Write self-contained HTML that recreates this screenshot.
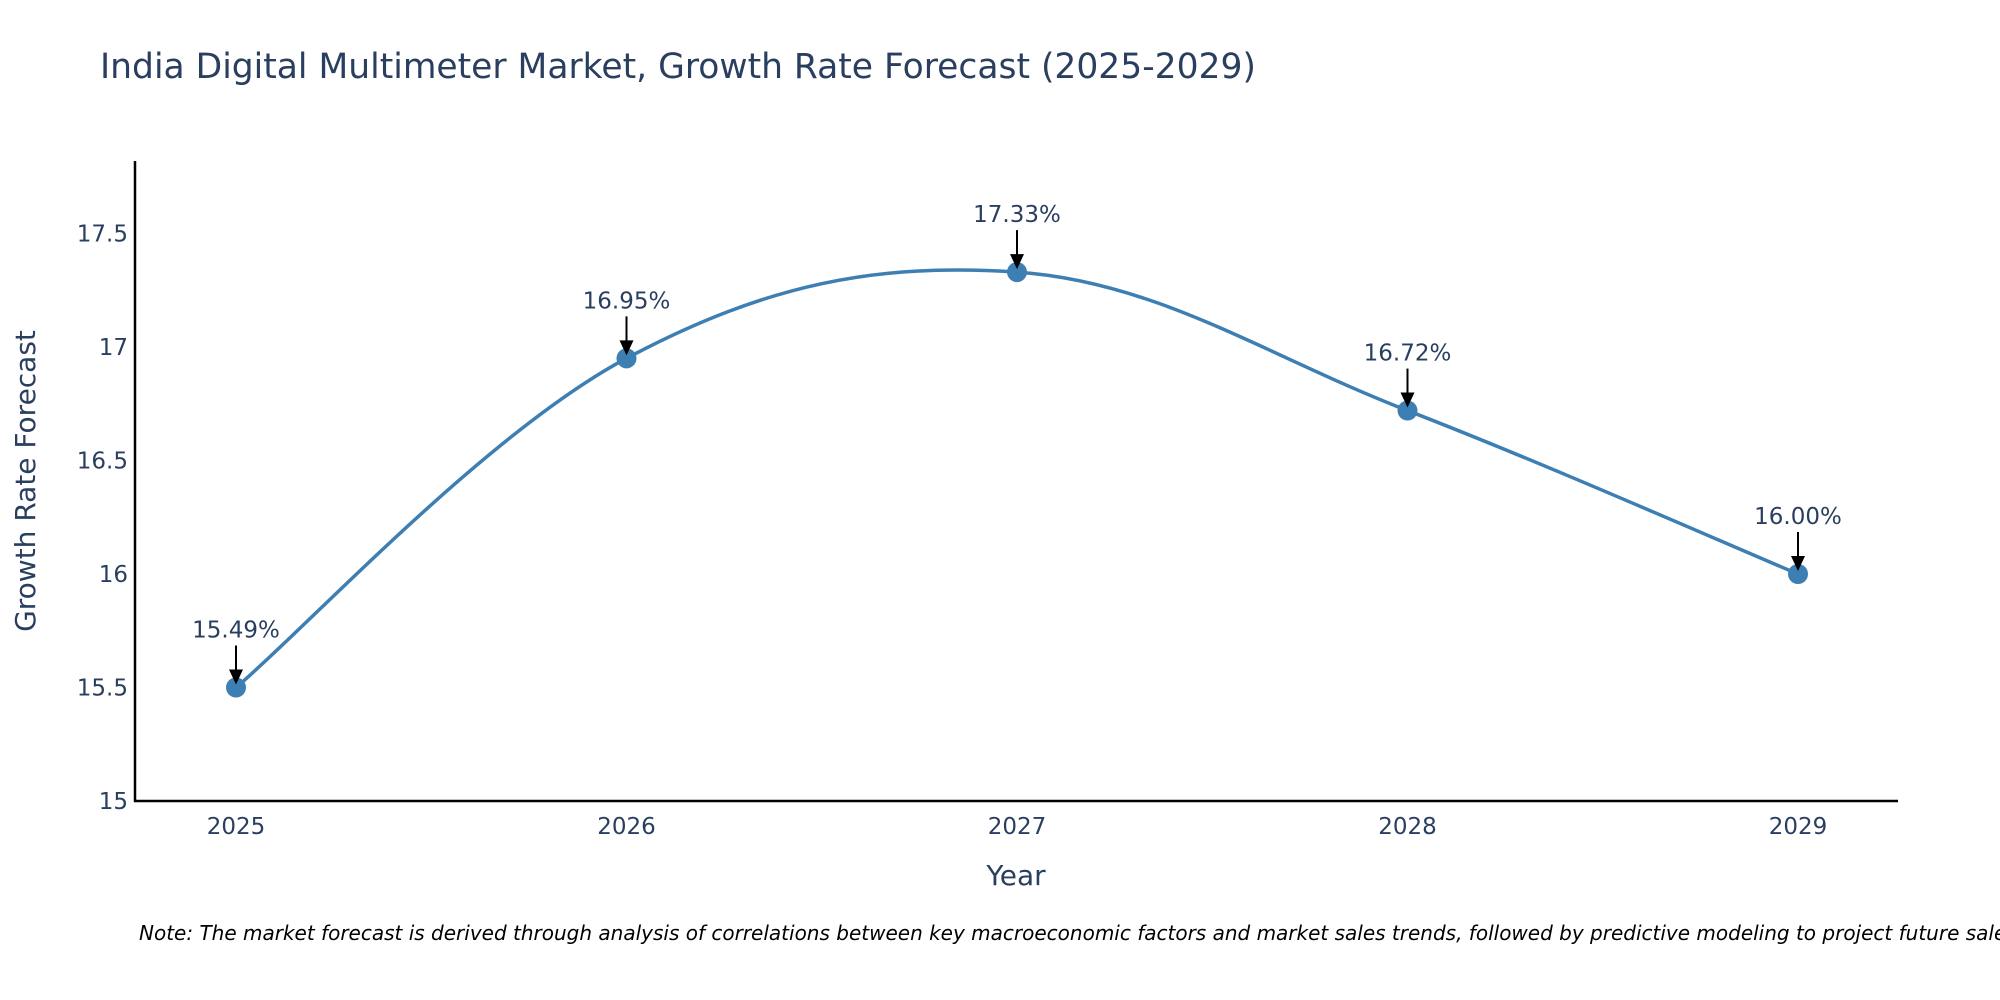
<!DOCTYPE html>
<html><head><meta charset="utf-8"><style>
body{margin:0;background:#fff;}
svg{display:block;font-family:"DejaVu Sans","Liberation Sans",sans-serif;}
</style></head><body>
<svg id="chart" width="2000" height="1000">
<text x="100" y="78" font-size="34.5" fill="#2a3f5f">India Digital Multimeter Market, Growth Rate Forecast (2025-2029)</text>
<g id="yticks"></g><g id="xticks"></g>
<path id="line" fill="none" stroke="#3d7fb3" stroke-width="3.5"/>
<g id="marks"></g>
<line x1="135" y1="161" x2="135" y2="802" stroke="#000" stroke-width="2.5"/>
<line x1="134" y1="801" x2="1898" y2="801" stroke="#000" stroke-width="2.5"/>
<text x="1016" y="885" font-size="28" fill="#2a3f5f" text-anchor="middle">Year</text>
<text transform="translate(35,481) rotate(-90)" font-size="28" fill="#2a3f5f" text-anchor="middle">Growth Rate Forecast</text>
<text x="139" y="940" font-size="20" font-style="italic" fill="#000">Note: The market forecast is derived through analysis of correlations between key macroeconomic factors and market sales trends, followed by predictive modeling to project future sales.</text>
</svg>
<script>
const years=[2025,2026,2027,2028,2029];
const values=[15.5,16.95,17.33,16.72,16.00];
const labels=["15.49%","16.95%","17.33%","16.72%","16.00%"];
const yTicks=[15,15.5,16,16.5,17,17.5];
const yTickLabels=["15","15.5","16","16.5","17","17.5"];
const NS="http://www.w3.org/2000/svg";
const xs=y=>236+(y-2025)*390.5;
const ys=v=>801-(v-15)*227;
function el(t,a,p){const e=document.createElementNS(NS,t);for(const k in a)e.setAttribute(k,a[k]);p.appendChild(e);return e;}
const yt=document.getElementById('yticks');
yTicks.forEach((t,i)=>{const e=el('text',{x:128,y:ys(t)+8,'font-size':23,fill:'#2a3f5f','text-anchor':'end'},yt);e.textContent=yTickLabels[i];

});
const xt=document.getElementById('xticks');
years.forEach(y=>{const e=el('text',{x:xs(y),y:834,'font-size':23,fill:'#2a3f5f','text-anchor':'middle'},xt);e.textContent=y;

});
const P=years.map((y,i)=>[xs(y),ys(values[i])]);
let d='M'+P[0][0]+','+P[0][1];const t=0.18;
for(let i=0;i<P.length-1;i++){const p0=P[Math.max(0,i-1)],p1=P[i],p2=P[i+1],p3=P[Math.min(P.length-1,i+2)];
d+=` C${p1[0]+(p2[0]-p0[0])*t},${p1[1]+(p2[1]-p0[1])*t} ${p2[0]-(p3[0]-p1[0])*t},${p2[1]-(p3[1]-p1[1])*t} ${p2[0]},${p2[1]}`;}
document.getElementById('line').setAttribute('d',d);
const m=document.getElementById('marks');
P.forEach((p,i)=>{const c=el('circle',{cx:p[0],cy:p[1],r:10,fill:'#3d7fb3'},m);


const l=el('line',{x1:p[0],y1:p[1]-42,x2:p[0],y2:p[1]-16,stroke:'#000','stroke-width':2},m);


const h=el('polygon',{points:`${p[0]-7},${p[1]-18} ${p[0]+7},${p[1]-18} ${p[0]},${p[1]-3}`,fill:'#000'},m);


const tx=el('text',{x:p[0],y:p[1]-50,'font-size':23,fill:'#2a3f5f','text-anchor':'middle'},m);tx.textContent=labels[i];

});
</script>
</body></html>
